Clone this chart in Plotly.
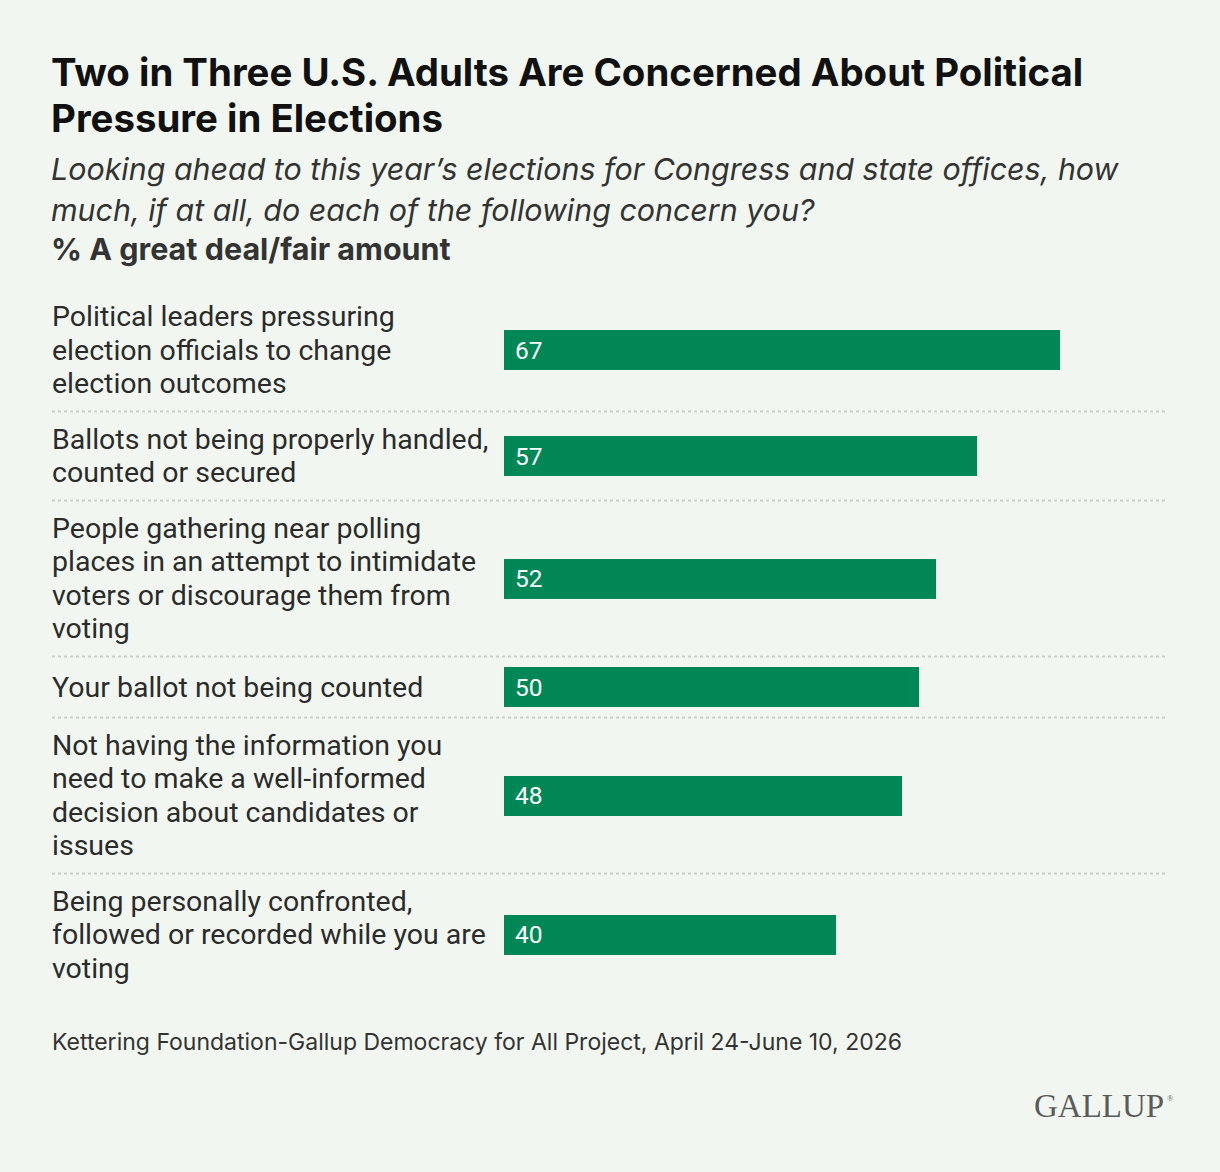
import plotly.graph_objects as go

# data
labels = [
    ["Political leaders pressuring", "election officials to change", "election outcomes"],
    ["Ballots not being properly handled,", "counted or secured"],
    ["People gathering near polling", "places in an attempt to intimidate",
     "voters or discourage them from", "voting"],
    ["Your ballot not being counted"],
    ["Not having the information you", "need to make a well-informed",
     "decision about candidates or", "issues"],
    ["Being personally confronted,", "followed or recorded while you are", "voting"],
]
values = [67, 57, 52, 50, 48, 40]

title_lines = ["Two in Three U.S. Adults Are Concerned About Political",
               "Pressure in Elections"]
subtitle_lines = ["Looking ahead to this year\u2019s elections for Congress and state offices, how",
                  "much, if at all, do each of the following concern you?"]
measure = "% A great deal/fair amount"
source = "Kettering Foundation-Gallup Democracy for All Project, April 24-June 10, 2026"

HEAD_FONT = "Inter"
BODY_FONT = "Roboto"
BG = "#f1f7f0"
GREEN = "#008756"
W, H = 1220, 1172
PLOT_L, PLOT_T = 504, 289
PX_PER_UNIT = 8.3
XMAX = 80
LINE = 33.5

# row heights depend on how many lines the label wraps to
heights = [max(LINE * len(lab) + 22, 61) for lab in labels]
tops = []
acc = 0
for h in heights:
    tops.append(acc)
    acc += h
total = acc
centers = [t + h / 2 for t, h in zip(tops, heights)]

plot_w = XMAX * PX_PER_UNIT
margin_r = W - PLOT_L - plot_w
margin_b = H - PLOT_T - total


def px_x(px):
    # page pixel -> paper x
    return (px - PLOT_L) / plot_w


def px_y(py):
    # page pixel -> paper y
    return 1 - (py - PLOT_T) / total


def text_ann(txt, x, y, size, color, family=HEAD_FONT, anchor="left"):
    return dict(x=px_x(x), y=px_y(y), xref="paper", yref="paper", text=txt,
                xanchor=anchor, yanchor="middle", showarrow=False,
                font=dict(family=family, size=size, color=color))


fig = go.Figure()
fig.add_trace(go.Bar(
    x=values, y=centers, orientation="h", width=40,
    marker_color=GREEN, marker_line_width=0, hoverinfo="skip",
))

ann = []
for lab, c, v in zip(labels, centers, values):
    n = len(lab)
    for j, line in enumerate(lab):
        yy = c + (j - (n - 1) / 2) * LINE
        ann.append(dict(x=px_x(50), y=yy, xref="paper", yref="y", text=line,
                        xanchor="left", yanchor="middle", showarrow=False,
                        font=dict(family=BODY_FONT, size=28.5, color="#2b2b2b")))
    ann.append(dict(x=0, y=c, xref="x", yref="y", text=str(v), xshift=9,
                    xanchor="left", yanchor="middle", showarrow=False,
                    font=dict(family=BODY_FONT, size=24.5, color="white")))

for i, t in enumerate(title_lines):
    ann.append(text_ann("<b>" + t + "</b>", 49, 72 + 46.5 * i, 38.4, "#111111"))
for i, t in enumerate(subtitle_lines):
    ann.append(text_ann("<i>" + t + "</i>", 49, 169 + 41 * i, 30.4, "#333333"))
ann.append(text_ann("<b>" + measure + "</b>", 49, 248, 30.5, "#333333"))
ann.append(text_ann(source, 50, 1042, 23, "#333333"))
ann.append(text_ann("GALLUP", 1166, 1106, 33, "#5b5b5b", family="Liberation Serif", anchor="right"))
ann.append(text_ann("\u00ae", 1165, 1098, 8, "#5b5b5b", family="Liberation Serif"))

shapes = []
for t in tops[1:]:
    shapes.append(dict(type="line", xref="paper", yref="y", x0=px_x(52), x1=px_x(1168),
                       y0=t, y1=t, line=dict(color="#c9d0c9", width=2, dash="dot")))

fig.update_layout(
    width=W, height=H,
    margin=dict(l=PLOT_L, r=margin_r, t=PLOT_T, b=margin_b),
    paper_bgcolor=BG, plot_bgcolor=BG,
    showlegend=False,
    annotations=ann, shapes=shapes,
    xaxis=dict(range=[0, XMAX], visible=False, fixedrange=True),
    yaxis=dict(range=[total, 0], visible=False, fixedrange=True),
    bargap=0,
)

fig.write_html("out.html", config={"displayModeBar": False},
               post_script="document.body.style.margin='0';")
